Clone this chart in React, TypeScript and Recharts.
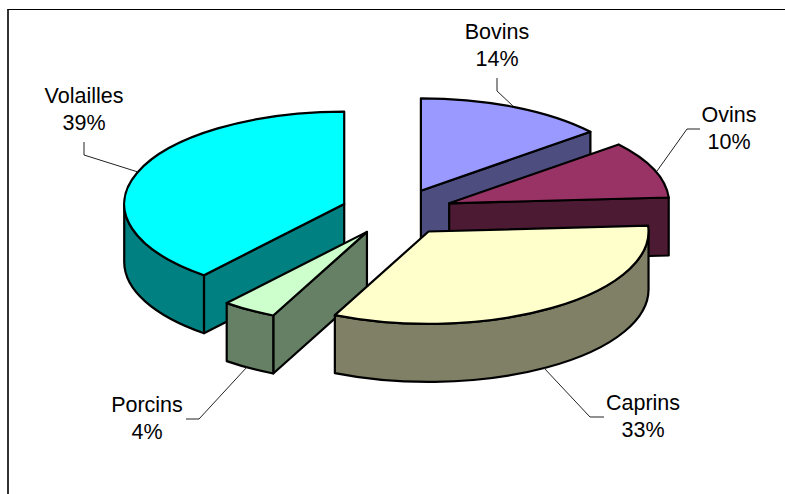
import React from "react";
import { Pie, PieChart } from "recharts";

const categories = ["Bovins", "Ovins", "Caprins", "Porcins", "Volailles"];
const shares = [14, 10, 33, 4, 39];

const topColors = ["#9999FF", "#993366", "#FFFFCC", "#CCFFCC", "#00FFFF"];
const wallColors = ["#4D4D80", "#4D1A33", "#808066", "#668066", "#008080"];

// text centre, two baselines, leader polyline for each category
const labelSpots = [
    { x: 497, y: [39, 66], leader: "497,78 497,91 513,106" },
    { x: 729, y: [122, 149], leader: "700,129 687,129 657,171" },
    { x: 643, y: [410, 437], leader: "604,417 590,417 544,368" },
    { x: 147, y: [412, 439], leader: "186,419 199,419 247,367" },
    { x: 84, y: [103, 130], leader: "84,142 84,155 138,172" },
];

// painting order, back to front
const layers = [["Volailles"], ["Porcins"], ["Bovins", "Ovins", "Caprins"]];

const TILT = 0.42;
const DEPTH = 58;
const EXPLODE = 0.255;

const rows = categories.map((name, i) => ({ name, value: shares[i] }));

const rad = (deg: number) => (deg * Math.PI) / 180;

const edgeStyle = {
    stroke: "#000",
    strokeWidth: 2.2,
    strokeLinejoin: "round" as const,
};

function Slice3D(props: any, layer: string[]) {
    const { cx, cy, outerRadius: r, startAngle, endAngle, payload } = props;
    const name = payload?.name ?? props.name;
    if (!layer.includes(name)) return <g />;
    const i = categories.indexOf(name);

    const ry = r * TILT;
    const mid = rad((startAngle + endAngle) / 2);
    const ax = cx + EXPLODE * r * Math.cos(mid);
    const ay = cy - EXPLODE * ry * Math.sin(mid);
    const at = (deg: number) => ({
        x: ax + r * Math.cos(rad(deg)),
        y: ay - ry * Math.sin(rad(deg)),
    });
    const wall = (deg: number) => {
        const p = at(deg);
        return `M${ax} ${ay}L${p.x} ${p.y}L${p.x} ${p.y + DEPTH}L${ax} ${ay + DEPTH}Z`;
    };

    const s = at(startAngle);
    const e = at(endAngle);
    const topLarge = startAngle - endAngle > 180 ? 1 : 0;

    // a cut face shows only when it drops away from the top of the slice
    const showStart = Math.cos(rad(startAngle)) < -1e-6;
    const showEnd = Math.cos(rad(endAngle)) > 1e-6;

    // the rim wall shows only on the lower half of the ellipse
    const rimFrom = Math.min(startAngle, 0);
    const rimTo = Math.max(endAngle, -180);
    let rim = null;
    if (rimFrom > rimTo) {
        const p = at(rimFrom);
        const q = at(rimTo);
        rim = (
            <path
                d={`M${p.x} ${p.y}A${r} ${ry} 0 0 1 ${q.x} ${q.y}L${q.x} ${q.y + DEPTH}A${r} ${ry} 0 0 0 ${p.x} ${p.y + DEPTH}Z`}
                fill={wallColors[i]}
                {...edgeStyle}
            />
        );
    }

    return (
        <g>
            {showStart && <path d={wall(startAngle)} fill={wallColors[i]} {...edgeStyle} />}
            {showEnd && <path d={wall(endAngle)} fill={wallColors[i]} {...edgeStyle} />}
            {rim}
            <path
                d={`M${ax} ${ay}L${s.x} ${s.y}A${r} ${ry} 0 ${topLarge} 1 ${e.x} ${e.y}Z`}
                fill={topColors[i]}
                {...edgeStyle}
            />
        </g>
    );
}

function SliceLabel(props: any) {
    const i = categories.indexOf(props.name ?? props.payload?.name);
    const spot = labelSpots[i];
    const textStyle = {
        textAnchor: "middle" as const,
        fontFamily: "Liberation Sans",
        fontSize: 21.5,
        fill: "#000",
    };
    return (
        <g>
            <polyline points={spot.leader} fill="none" stroke="#222" strokeWidth={1} />
            <text x={spot.x} y={spot.y[0]} {...textStyle}>
                {categories[i]}
            </text>
            <text x={spot.x} y={spot.y[1]} {...textStyle}>
                {`${shares[i]}%`}
            </text>
        </g>
    );
}

export default function App() {
    return (
        <div style={{ position: "absolute", left: 0, top: 0, width: 785, height: 494, background: "#fff", overflow: "hidden" }}>
            <div
                style={{
                    position: "absolute",
                    left: 7,
                    top: 9,
                    right: 0,
                    bottom: 0,
                    borderLeft: "2px solid #333",
                    borderTop: "1px solid #000",
                }}
            />
            <div style={{ position: "absolute", left: 0, top: 0 }}>
                <PieChart width={785} height={494} margin={{ top: 0, right: 0, bottom: 0, left: 0 }}>
                    {layers.map((layer, n) => (
                        <Pie
                            key={n}
                            data={rows}
                            dataKey="value"
                            nameKey="name"
                            cx={397}
                            cy={212}
                            innerRadius={0}
                            outerRadius={220}
                            startAngle={90}
                            endAngle={-270}
                            isAnimationActive={false}
                            shape={(p: any) => Slice3D(p, layer)}
                            label={n === layers.length - 1 ? SliceLabel : false}
                            labelLine={false}
                        />
                    ))}
                </PieChart>
            </div>
        </div>
    );
}
